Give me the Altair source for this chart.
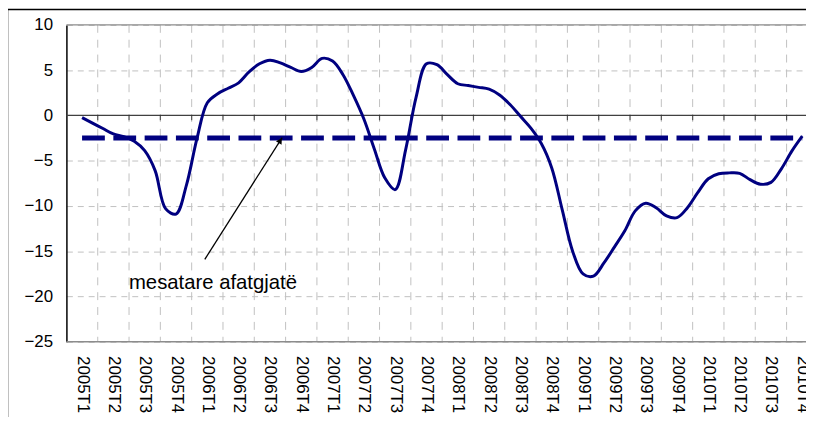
import altair as alt
import pandas as pd

# ---- data ----
quarters = ["2005T1", "2005T2", "2005T3", "2005T4",
            "2006T1", "2006T2", "2006T3", "2006T4",
            "2007T1", "2007T2", "2007T3", "2007T4",
            "2008T1", "2008T2", "2008T3", "2008T4",
            "2009T1", "2009T2", "2009T3", "2009T4",
            "2010T1", "2010T2", "2010T3", "2010T4"]

# monthly values (3 per quarter), from 2005T1 to 2010T4
values = [
    -0.25, -0.85, -1.45,
    -2.05, -2.35, -2.85,
    -3.9, -6.1, -10.3,
    -10.9, -7.7, -2.6,
    1.4, 2.4, 3.0,
    3.6, 4.8, 5.7,
    6.1, 5.8, 5.3,
    4.85, 5.3, 6.3,
    6.0, 4.5, 2.2,
    -0.4, -3.7, -6.9,
    -8.2, -3.8, 2.0,
    5.7, 5.6, 4.5,
    3.5, 3.3, 3.1,
    2.9, 2.25, 1.2,
    -0.1, -1.4, -3.1,
    -5.8, -10.4, -15.0,
    -17.5, -17.75, -16.3,
    -14.55, -12.75, -10.55,
    -9.7, -10.2, -11.1,
    -11.3, -10.2, -8.5,
    -7.0, -6.45, -6.35,
    -6.4, -7.1, -7.6,
    -7.4, -5.9, -3.95,
    -2.3,
]

long_term_average = -2.5
annotation_text = "mesatare afatgjatë"
# annotation positions in data units (quarter index, value)
arrow_tail = (3.92, -15.9)
arrow_tip = (6.39, -2.45)
arrowhead_center = (6.33, -2.78)
text_pos = (4.18, -19.2)

y_ticks = [-25, -20, -15, -10, -5, 0, 5, 10]

# ---- layout ----
W, H = 747, 320
X_DOMAIN = [-0.5, 23.12]
NAVY = "#000080"

line_df = pd.DataFrame({"q": [i / 3 for i in range(len(values))], "v": values})
avg_df = pd.DataFrame({"q": [0, len(quarters) - 1], "v": [long_term_average] * 2})
grid_df = pd.DataFrame({"q": [i + 0.5 for i in range(len(quarters) - 1)], "v": 0})
border_df = pd.DataFrame({"v": [y_ticks[0], y_ticks[-1]]})
zero_df = pd.DataFrame({"v": [0]})
arrow_df = pd.DataFrame({"q": [arrow_tail[0]], "v": [arrow_tail[1]],
                         "q2": [arrow_tip[0]], "v2": [arrow_tip[1]]})
head_df = pd.DataFrame({"q": [arrowhead_center[0]], "v": [arrowhead_center[1]]})
text_df = pd.DataFrame({"q": [text_pos[0]], "v": [text_pos[1]], "t": [annotation_text]})

xscale = alt.Scale(domain=X_DOMAIN, nice=False, zero=False)
yscale = alt.Scale(domain=[-25, 10], nice=False, zero=False)

label_expr = "[" + ",".join(f"'{q}'" for q in quarters) + "][datum.value]"

x_axis = alt.Axis(values=list(range(len(quarters))), labelExpr=label_expr,
                  labelAngle=90, labelAlign="left", labelBaseline="middle",
                  labelFontSize=17, labelColor="black", ticks=False, tickSize=0,
                  domain=False, grid=False, labelPadding=14, labelFlush=False,
                  labelOverlap=False, title=None)
y_axis = alt.Axis(values=y_ticks, grid=True, gridDash=[6, 5], gridColor="#c0c0c0",
                  gridWidth=1, ticks=False, tickSize=0, domain=True,
                  domainColor="black", domainWidth=1.5, labelFontSize=17,
                  labelColor="black", labelPadding=14, title=None)


def X(field="q"):
    return alt.X(f"{field}:Q", scale=xscale, axis=x_axis)


def Y(field="v"):
    return alt.Y(f"{field}:Q", scale=yscale, axis=y_axis)


frame = alt.Chart(pd.DataFrame({"a": [0]})).mark_rect(
    fillOpacity=0, stroke="black", strokeWidth=1.5
).encode(x=alt.value(-59.5), x2=alt.value(W + 40), y=alt.value(-15.5), y2=alt.value(H + 200))

vgrid = alt.Chart(grid_df).mark_rule(color="#c0c0c0", strokeDash=[8, 7], strokeWidth=1).encode(
    x=X(), y=alt.value(0), y2=alt.value(H)
)

borders = alt.Chart(border_df).mark_rule(color="#8c8c8c", strokeWidth=1.4).encode(
    y=Y(), x=alt.value(0), x2=alt.value(W)
)

zero_line = alt.Chart(zero_df).mark_rule(color="#404040", strokeWidth=1.3).encode(
    y=Y(), x=alt.value(0), x2=alt.value(W)
)

zero_ticks = alt.Chart(grid_df).mark_tick(
    orient="vertical", size=5, thickness=1.2, color="#202020", yOffset=2.5
).encode(x=X(), y=Y())

avg_line = alt.Chart(avg_df).mark_line(color=NAVY, strokeWidth=5, strokeDash=[23, 8.6]).encode(
    x=X(), y=Y()
)

main_line = alt.Chart(line_df).mark_line(
    color=NAVY, strokeWidth=3, interpolate="catmull-rom", clip=True
).encode(x=X(), y=Y())

arrow = alt.Chart(arrow_df).mark_rule(color="black", strokeWidth=1.3).encode(
    x=X(), y=Y(), x2="q2:Q", y2="v2:Q"
)

head = alt.Chart(head_df).mark_point(
    shape="triangle-up", filled=True, color="black", size=45, angle=32, opacity=1
).encode(x=X(), y=Y())

label = alt.Chart(text_df).mark_text(
    fontSize=20.5, color="black", align="center", baseline="alphabetic"
).encode(x=X(), y=Y(), text="t:N")

chart = alt.layer(
    frame, vgrid, borders, zero_line, zero_ticks, avg_line, main_line, arrow, head, label
).properties(
    width=W, height=H,
    autosize=alt.AutoSizeParams(type="none"),
    padding={"left": 59, "top": 15, "right": 0, "bottom": 74},
).configure(font="Liberation Sans").configure_view(strokeWidth=0)

chart.save("out.html", embed_options={"renderer": "svg", "actions": False})
